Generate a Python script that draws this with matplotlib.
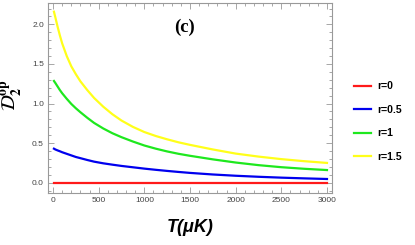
import numpy as np
import matplotlib
matplotlib.use("Agg")
import matplotlib.pyplot as plt
from matplotlib.ticker import MultipleLocator

# valores
T = [10, 25, 50, 75, 100, 150, 200, 250, 300, 375, 450, 550, 650, 750, 875,
     1000, 1125, 1250, 1375, 1500, 1750, 2000, 2250, 2500, 2750, 3000]
d_r0 = [0.0] * len(T)
d_r05 = [0.43, 0.42, 0.408, 0.397, 0.385, 0.365, 0.345, 0.325, 0.31, 0.287,
         0.266, 0.245, 0.228, 0.212, 0.195, 0.178, 0.163, 0.149, 0.136, 0.124,
         0.104, 0.088, 0.075, 0.064, 0.055, 0.047]
d_r1 = [1.285, 1.26, 1.215, 1.17, 1.13, 1.06, 0.995, 0.94, 0.89, 0.82, 0.755,
        0.685, 0.625, 0.575, 0.52, 0.47, 0.43, 0.395, 0.365, 0.34, 0.295,
        0.255, 0.222, 0.196, 0.176, 0.16]
d_r15 = [2.16, 2.09, 1.97, 1.86, 1.76, 1.6, 1.47, 1.37, 1.28, 1.17, 1.07, 0.96,
         0.865, 0.785, 0.705, 0.64, 0.59, 0.548, 0.51, 0.478, 0.42, 0.368,
         0.33, 0.298, 0.272, 0.25]
etiquetas = ["r=0", "r=0.5", "r=1", "r=1.5"]
colores = ["#ff1a1a", "#0000ee", "#1ee81e", "#ffff1a"]

plt.rcParams['font.family'] = ['Liberation Sans', 'DejaVu Sans']
plt.rcParams['mathtext.fontset'] = 'stix'

fig = plt.figure(figsize=(4.15, 2.45), dpi=100)
ax = fig.add_axes([0.1157, 0.2122, 0.8 - 0.1157, 0.9878 - 0.2122])

for serie, lab, c in zip([d_r0, d_r05, d_r1, d_r15], etiquetas, colores):
    ax.plot(T, serie, color=c, lw=1.6, label=lab)

ax.set_xlim(-55, 3055)
ax.set_ylim(-0.13, 2.27)
ax.xaxis.set_major_locator(MultipleLocator(500))
ax.xaxis.set_minor_locator(MultipleLocator(100))
ax.yaxis.set_major_locator(MultipleLocator(0.5))
ax.yaxis.set_minor_locator(MultipleLocator(0.1))
ax.yaxis.set_major_formatter(matplotlib.ticker.FormatStrFormatter('%.1f'))

gris = '#999999'
for s in ax.spines.values():
    s.set_color(gris)
    s.set_linewidth(0.8)
ax.tick_params(which='both', direction='in', top=True, right=True,
               color=gris, labelsize=6, labelcolor='#444444', width=0.6)
ax.tick_params(which='major', length=4, pad=3)
ax.tick_params(which='minor', length=2)

fig.text(0.458, 0.07, 'T(μK)', fontsize=13, fontweight='bold',
         fontstyle='italic', ha='center', va='center')
fig.text(0.03, 0.61, r'$\mathcal{D}_{\mathbf{2}}^{\mathbf{op}}$',
         fontsize=14, rotation=90, ha='center', va='center')
ax.text(0.48, 0.87, '(c)', transform=ax.transAxes, fontsize=13.5,
        fontweight='bold', family='Liberation Serif', ha='center', va='center')

leg = ax.legend(loc='center left', bbox_to_anchor=(1.045, 0.376), frameon=False,
                prop={'weight': 'bold', 'size': 7.5}, handlelength=1.6,
                labelspacing=1.3, handletextpad=0.6)

fig.savefig("out.png", dpi=100)
